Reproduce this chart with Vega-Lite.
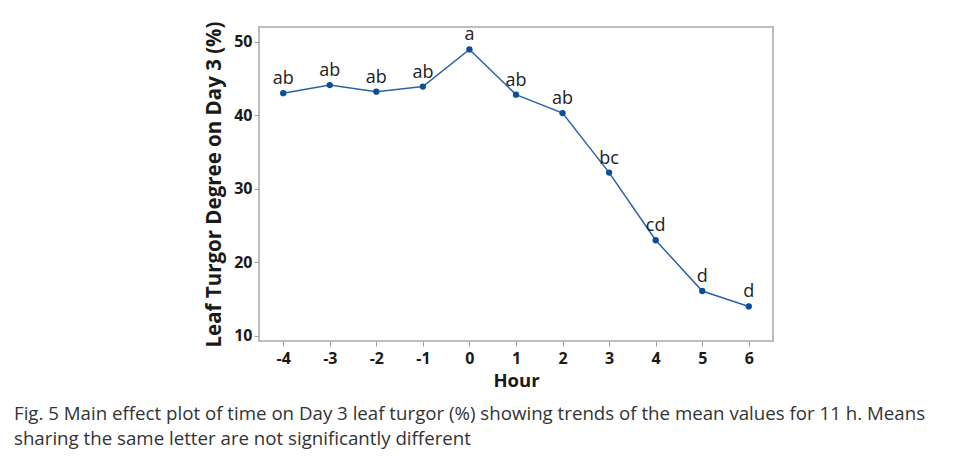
{
  "$schema": "https://vega.github.io/schema/vega-lite/v6.json",
  "width": 514,
  "height": 314,
  "autosize": {"type": "none"},
  "padding": {"left": 259, "top": 27, "right": 183, "bottom": 118},
  "background": "white",
  "config": {
    "view": {"stroke": "#a8a8a8", "strokeWidth": 1.5},
    "font": "Open Sans"
  },
  "title": {
    "text": ["Fig. 5  Main effect plot of time on Day 3 leaf turgor (%) showing trends of the mean values for 11 h. Means", "sharing the same letter are not significantly different"],
    "orient": "bottom",
    "anchor": "start",
    "frame": "group",
    "dx": -245,
    "offset": 15,
    "fontSize": 18.7,
    "fontWeight": "normal",
    "color": "#333333",
    "font": "Open Sans",
    "lineHeight": 25
  },
  "data": {
    "values": [
      {"hour": -4, "turgor": 43.0, "letter": "ab"},
      {"hour": -3, "turgor": 44.1, "letter": "ab"},
      {"hour": -2, "turgor": 43.2, "letter": "ab"},
      {"hour": -1, "turgor": 43.9, "letter": "ab"},
      {"hour": 0, "turgor": 48.95, "letter": "a"},
      {"hour": 1, "turgor": 42.8, "letter": "ab"},
      {"hour": 2, "turgor": 40.3, "letter": "ab"},
      {"hour": 3, "turgor": 32.2, "letter": "bc"},
      {"hour": 4, "turgor": 23.0, "letter": "cd"},
      {"hour": 5, "turgor": 16.1, "letter": "d"},
      {"hour": 6, "turgor": 14.0, "letter": "d"}
    ]
  },
  "encoding": {
    "x": {
      "field": "hour",
      "type": "quantitative",
      "scale": {"domain": [-4.52, 6.52], "nice": false, "zero": false},
      "axis": {
        "title": "Hour",
        "values": [-4, -3, -2, -1, 0, 1, 2, 3, 4, 5, 6],
        "labelExpr": "datum.value < 0 ? '-' + abs(datum.value) : '' + datum.value",
        "grid": false,
        "domain": false,
        "tickColor": "#a0a0a0",
        "tickSize": 5,
        "labelFontSize": 16,
        "labelFontWeight": "bold",
        "labelColor": "#1a1a1a",
        "labelPadding": 4,
        "titleFontSize": 18.5,
        "titleFontWeight": "bold",
        "titleColor": "#1a1a1a",
        "titlePadding": 5
      }
    },
    "y": {
      "field": "turgor",
      "type": "quantitative",
      "scale": {"domain": [9.3, 52], "nice": false, "zero": false},
      "axis": {
        "title": "Leaf Turgor Degree on Day 3 (%)",
        "values": [10, 20, 30, 40, 50],
        "grid": false,
        "domain": false,
        "tickColor": "#a0a0a0",
        "tickSize": 5,
        "labelFontSize": 16,
        "labelFontWeight": "bold",
        "labelColor": "#1a1a1a",
        "labelPadding": 2,
        "titleFontSize": 20.5,
        "titleFontWeight": "bold",
        "titleColor": "#1a1a1a",
        "titlePadding": 9
      }
    }
  },
  "layer": [
    {"mark": {"type": "line", "color": "#2863ab", "strokeWidth": 1.5}},
    {"mark": {"type": "point", "filled": true, "color": "#0b4f9c", "size": 40, "opacity": 1}},
    {
      "mark": {"type": "text", "dy": -14, "fontSize": 18, "color": "#222222", "font": "Open Sans"},
      "encoding": {"text": {"field": "letter"}}
    }
  ]
}
